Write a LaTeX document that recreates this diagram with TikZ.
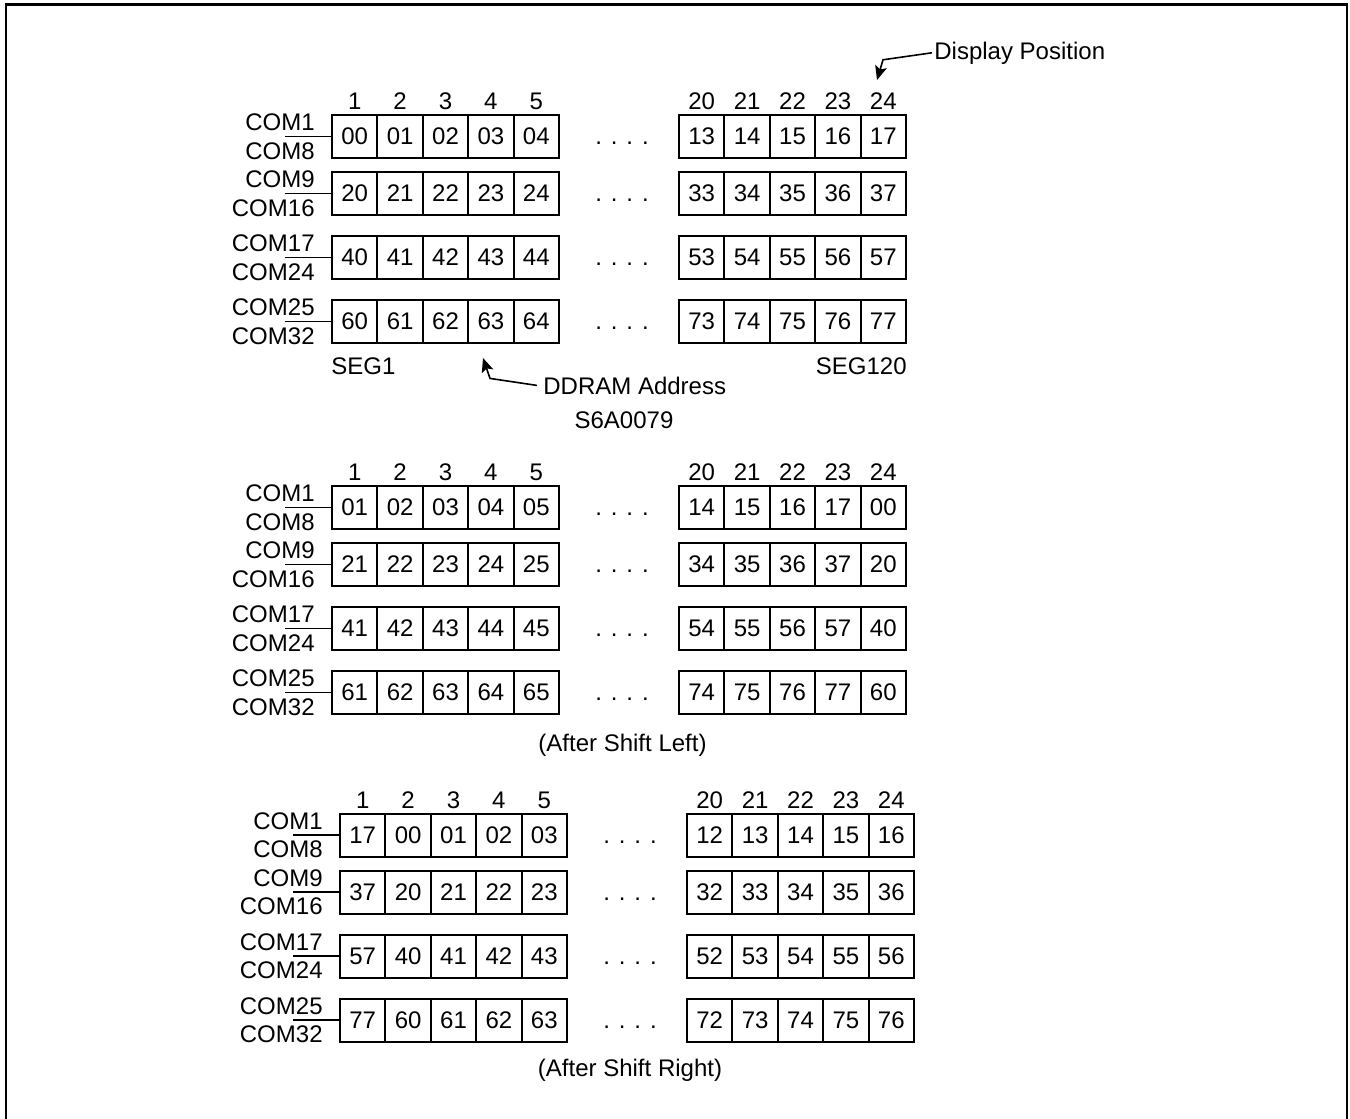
\documentclass[tikz,border=0pt]{standalone}
\usepackage{fontspec}
\setmainfont{Liberation Sans}
\usetikzlibrary{arrows.meta,calc,positioning}

\begin{document}
\begin{tikzpicture}[x=0.5pt,y=-0.5pt,>={Stealth[length=7pt,width=6pt,inset=1.5pt]},
    every node/.style={font=\fontsize{12}{14}\selectfont,inner sep=0pt},
    cell/.style={draw,line width=1pt,minimum width=22.7pt,minimum height=21.5pt},
    lead/.style={line width=0.8pt}]
  \useasboundingbox (0,0) rectangle (1350,1119);
  \draw[line width=1.2pt] (6,1140) -- (6,4.3) -- (1347,4.3) -- (1347,1140);

  % S6A0079
  \foreach \vals [count=\r] in {{00,01,02,03,04,13,14,15,16,17},{20,21,22,23,24,33,34,35,36,37},
      {40,41,42,43,44,53,54,55,56,57},{60,61,62,63,64,73,74,75,76,77}}
    \foreach \v [count=\c] in \vals
      \node[cell] (a-\r-\c) at ({332+45.4*\c-22.7+120*(\c>5)},{115+21.5+64*(\r-1)-7*(\r>1)}) {\v};
  % after shift left
  \foreach \vals [count=\r] in {{01,02,03,04,05,14,15,16,17,00},{21,22,23,24,25,34,35,36,37,20},
      {41,42,43,44,45,54,55,56,57,40},{61,62,63,64,65,74,75,76,77,60}}
    \foreach \v [count=\c] in \vals
      \node[cell] (b-\r-\c) at ({332+45.4*\c-22.7+120*(\c>5)},{486+21.5+64*(\r-1)-7*(\r>1)}) {\v};
  % after shift right
  \foreach \vals [count=\r] in {{17,00,01,02,03,12,13,14,15,16},{37,20,21,22,23,32,33,34,35,36},
      {57,40,41,42,43,52,53,54,55,56},{77,60,61,62,63,72,73,74,75,76}}
    \foreach \v [count=\c] in \vals
      \node[cell] (c-\r-\c) at ({340+45.4*\c-22.7+120*(\c>5)},{813.5+21.5+64*(\r-1)-7*(\r>1)}) {\v};

  \foreach \p in {a,b,c} {
    \foreach \h [count=\c] in {1,2,3,4,5,20,21,22,23,24}
      \node[anchor=base] (\p-h\c) at ([yshift=2.25pt]\p-1-\c.north) {\h};
    \foreach \t/\b [count=\r] in {COM1/COM8,COM9/COM16,COM17/COM24,COM25/COM32} {
      \node[anchor=base east] (\p-t\r) at ([xshift=-8pt,yshift=3pt]\p-\r-1.west) {\t};
      \node[anchor=base east] (\p-b\r) at ([xshift=-8pt]\p-\r-1.south west) {\b};
      \draw[lead] (\p-\r-1.west) -- ++(-46,0);
      \node[anchor=base] (\p-d\r) at ($(\p-\r-5.base)!0.5!(\p-\r-6.base)+(3,0)$) {. . . .};
    }
  }

  \node[anchor=base west] (seg1) at ([yshift=-15pt]a-4-1.south west) {SEG1};
  \node[anchor=base east] (seg120) at ([yshift=-15pt]a-4-10.south east) {SEG120};
  \node[anchor=base west] (addr) at (543,394) {DDRAM Address};
  \node[anchor=base] (chip) at (624,428) {S6A0079};
  \node[anchor=base west] (disp) at (934,59) {Display Position};
  \node[anchor=base] (leftcap) at (622.5,751) {(After Shift Left)};
  \node[anchor=base] (rightcap) at (630,1076) {(After Shift Right)};

  \coordinate (addrtip) at (483,358);
  \coordinate (disptip) at (877,80);
  \draw[lead,->] ([xshift=-3pt]addr.west) -- ++(-47,-7) -- (addrtip);
  \draw[lead,->] ([xshift=-1pt]disp.west) -- ++(-49,7) -- (disptip);
\end{tikzpicture}
\end{document}
